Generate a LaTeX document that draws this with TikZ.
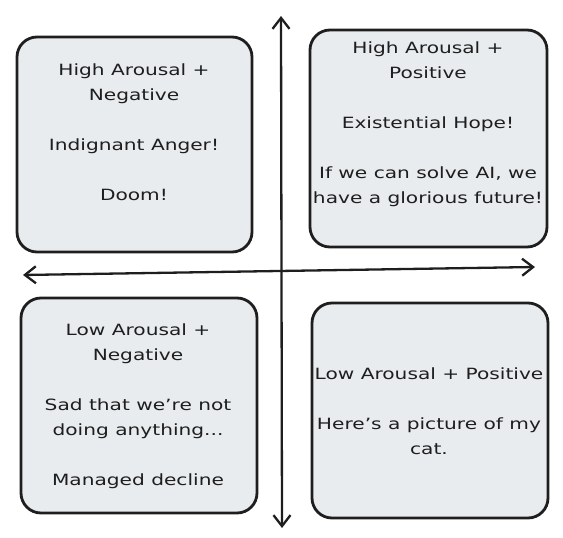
\documentclass[tikz,border=0pt]{standalone}
\usepackage{fontspec}
\setmainfont[FakeStretch=1.3]{DejaVu Sans}
\usetikzlibrary{arrows.meta}
\definecolor{boxfill}{HTML}{E9ECEF}
\definecolor{ink}{HTML}{1E1E1E}
\tikzset{
  quad/.style={draw=ink, fill=boxfill, line width=2.8pt, rounded corners=20pt},
  txt/.style={align=center, text=ink, font=\fontsize{15.5}{25}\selectfont, inner sep=0pt},
  axis/.style={draw=ink, line width=2.3pt, {Straight Barb[length=11pt,width=17pt,line width=2.3pt]}-{Straight Barb[length=11pt,width=17pt,line width=2.3pt]}}
}
\begin{document}
\begin{tikzpicture}[x=1pt,y=-1pt]
\useasboundingbox (0,0) rectangle (563,538);
% quadrant boxes
\draw[quad] (17,37) rectangle (252,252);
\draw[quad] (310,30) rectangle (547,247);
\draw[quad] (21,298) rectangle (257,513);
\draw[quad] (312,303) rectangle (548,518);
% axes
\coordinate (top) at (281,16);
\coordinate (bottom) at (282,528);
\coordinate (left) at (23,275);
\coordinate (right) at (535,267);
\draw[axis] (top) -- (bottom);
\draw[axis] (left) -- (right);
% texts
\node[txt] (tl) at (134,132) {High Arousal +\\Negative\\[25pt]Indignant Anger!\\[25pt]Doom!};
\node[txt] (tr) at (428,124) {High Arousal +\\Positive\\[25pt]Existential Hope!\\[25pt]If we can solve AI, we\\have a glorious future!};
\node[txt] (bl) at (138,406) {Low Arousal +\\Negative\\[25pt]Sad that we're not\\doing anything...\\[25pt]Managed decline};
\node[txt] (br) at (429,411) {Low Arousal + Positive\\[25pt]Here's a picture of my\\cat.};
\end{tikzpicture}
\end{document}
